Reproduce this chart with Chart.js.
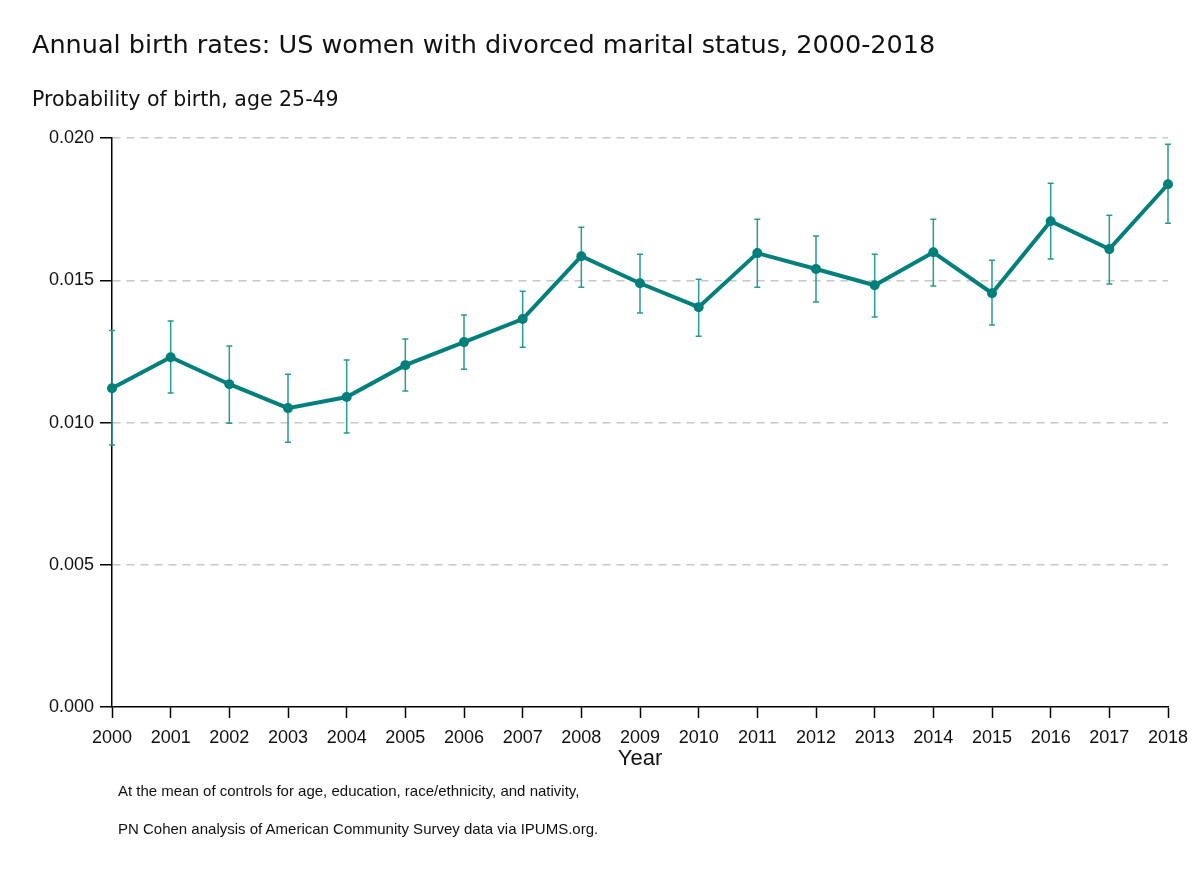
<!DOCTYPE html>
<html lang="en">
<head>
  <meta charset="UTF-8">
  <title>Annual birth rates: divorced women</title>
  <script src="https://cdn.jsdelivr.net/npm/chart.js"></script>
  <style>
    body { margin: 0; background: #fff; }
    .wrap { position: relative; width: 1200px; height: 873px; }
    .note {
      position: absolute;
      left: 118px;
      font-family: "Liberation Sans", Arial, sans-serif;
      font-size: 15px;
      color: #111;
    }
  </style>
</head>
<body>
<div class="wrap">
  <canvas id="birthChart" width="1200" height="873"></canvas>
  <div class="note" style="top:782px">At the mean of controls for age, education, race/ethnicity, and nativity,</div>
  <div class="note" style="top:820px">PN Cohen analysis of American Community Survey data via IPUMS.org.</div>
</div>

<script>
  // data
  const years = ['2000', '2001', '2002', '2003', '2004', '2005', '2006', '2007', '2008', '2009',
                 '2010', '2011', '2012', '2013', '2014', '2015', '2016', '2017', '2018'];
  const birthRate = [0.01121, 0.01230, 0.01135, 0.01051, 0.01090, 0.01202, 0.01283, 0.01364, 0.01585, 0.01490,
                     0.01406, 0.01596, 0.01540, 0.01483, 0.01599, 0.01455, 0.01708, 0.01610, 0.01838];
  const ciLow = [0.00921, 0.01104, 0.00998, 0.00931, 0.00963, 0.01111, 0.01188, 0.01265, 0.01476, 0.01385,
                 0.01304, 0.01476, 0.01424, 0.01371, 0.01480, 0.01343, 0.01575, 0.01487, 0.01701];
  const ciHigh = [0.01324, 0.01357, 0.01269, 0.01170, 0.01220, 0.01294, 0.01378, 0.01462, 0.01687, 0.01592,
                  0.01504, 0.01715, 0.01656, 0.01592, 0.01715, 0.01571, 0.01842, 0.01729, 0.01979];
  const yTicks = [0, 0.005, 0.010, 0.015, 0.020];

  const teal = '#007f7b';
  const font = '"Liberation Sans", Arial, sans-serif';
  const headFont = '"DejaVu Sans", sans-serif';

  // error bars with small caps, drawn under the line
  const errorBars = {
    id: 'errorBars',
    beforeDatasetsDraw(chart) {
      const { ctx, scales: { x, y } } = chart;
      ctx.save();
      ctx.strokeStyle = '#2a9893';
      ctx.lineWidth = 1.5;
      ciLow.forEach((lo, i) => {
        const px = x.getPixelForValue(i);
        const top = y.getPixelForValue(ciHigh[i]);
        const bot = y.getPixelForValue(lo);
        ctx.beginPath();
        ctx.moveTo(px, top); ctx.lineTo(px, bot);
        ctx.moveTo(px - 3, top); ctx.lineTo(px + 3, top);
        ctx.moveTo(px - 3, bot); ctx.lineTo(px + 3, bot);
        ctx.stroke();
      });
      ctx.restore();
    }
  };

  const ctx = document.getElementById('birthChart').getContext('2d');
  const chart = new Chart(ctx, {
    type: 'line',
    data: {
      labels: years,
      datasets: [{
        data: birthRate,
        borderColor: teal,
        backgroundColor: teal,
        borderWidth: 4,
        pointRadius: 5,
        pointBackgroundColor: teal,
        pointBorderWidth: 0,
        tension: 0
      }]
    },
    options: {
      responsive: false,
      animation: false,
      layout: { padding: { left: 32, right: 32, top: 0, bottom: 101 } },
      plugins: {
        legend: { display: false },
        tooltip: { enabled: false },
        title: {
          display: true,
          text: 'Annual birth rates: US women with divorced marital status, 2000-2018',
          align: 'start',
          color: '#111',
          font: { family: headFont, size: 25.5, weight: 'normal' },
          padding: { top: 31, bottom: 13 }
        },
        subtitle: {
          display: true,
          text: 'Probability of birth, age 25-49',
          align: 'start',
          color: '#111',
          font: { family: headFont, size: 20.5, weight: 'normal' },
          padding: { top: 14, bottom: 25 }
        }
      },
      scales: {
        x: {
          offset: false,
          grid: { drawOnChartArea: false, drawTicks: true, tickLength: 11, tickColor: '#000', tickWidth: 1.5 },
          border: { display: true, color: '#000', width: 1.5 },
          ticks: { color: '#111', font: { family: font, size: 18 }, autoSkip: false, maxRotation: 0, padding: 9 },
          title: { display: true, text: 'Year', color: '#111', font: { family: font, size: 22 }, padding: { top: -12, bottom: 0 } }
        },
        y: {
          min: 0,
          max: 0.02,
          afterBuildTicks(scale) { scale.ticks = yTicks.map(v => ({ value: v })); },
          afterFit(scale) { scale.width = 80; },
          grid: {
            color: ctx => ctx.tick && ctx.tick.value === 0 ? 'rgba(0,0,0,0)' : '#c8c8c8',
            lineWidth: 1.5,
            drawTicks: true,
            tickLength: 12,
            tickColor: '#000',
            tickWidth: 1.5,
            tickBorderDash: []
          },
          border: { display: true, color: '#000', width: 1.5, dash: [8, 6] },
          ticks: {
            color: '#111',
            font: { family: font, size: 18 },
            padding: 6,
            callback: v => Number(v).toFixed(3)
          }
        }
      }
    },
    plugins: [errorBars]
  });
</script>
</body>
</html>
